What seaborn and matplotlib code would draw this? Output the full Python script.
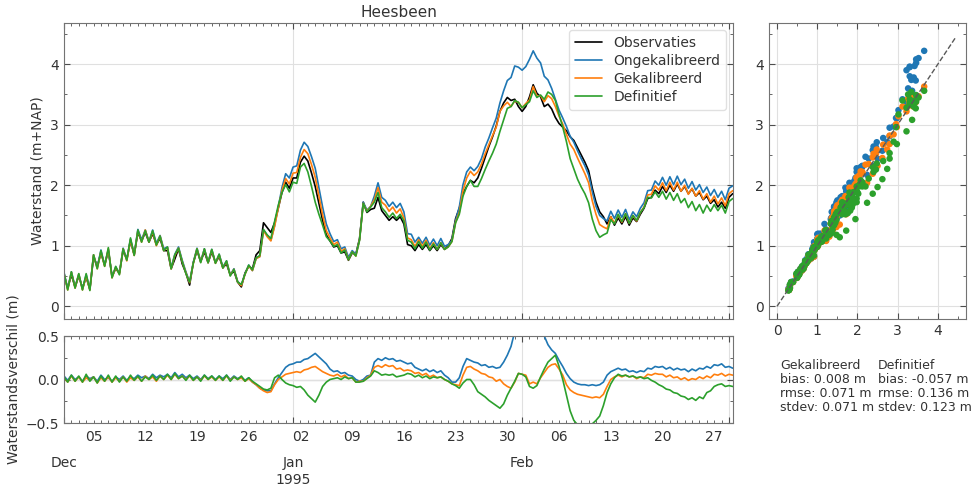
import numpy as np
import pandas as pd
import matplotlib
matplotlib.use("Agg")
import matplotlib.pyplot as plt
import matplotlib.dates as mdates
from matplotlib.ticker import AutoMinorLocator, FuncFormatter
import seaborn as sns

# half-daily values, 1 Dec 1994 00:00 .. 1 Mar 1995 12:00 (one week per row)
observaties = [
    0.52, 0.30, 0.52, 0.32, 0.50, 0.30, 0.48, 0.28, 0.82, 0.66, 0.88, 0.68, 0.92, 0.50,
    0.62, 0.55, 0.92, 0.78, 1.08, 0.85, 1.22, 1.08, 1.22, 1.06, 1.20, 1.02, 1.12, 0.92,
    0.92, 0.62, 0.78, 0.95, 0.70, 0.55, 0.35, 0.72, 0.92, 0.74, 0.90, 0.72, 0.90, 0.72,
    0.82, 0.64, 0.70, 0.52, 0.58, 0.40, 0.32, 0.55, 0.66, 0.62, 0.85, 0.92, 1.38, 1.30,
    1.22, 1.38, 1.62, 1.88, 2.05, 1.95, 2.12, 2.12, 2.38, 2.48, 2.40, 2.20, 1.98, 1.70,
    1.42, 1.18, 1.08, 0.98, 1.00, 0.88, 0.90, 0.76, 0.88, 0.86, 1.12, 1.72, 1.55, 1.60,
    1.62, 1.80, 1.58, 1.50, 1.42, 1.48, 1.42, 1.48, 1.36, 1.02, 1.00, 0.92, 1.02, 0.94,
    1.02, 0.92, 1.00, 0.92, 1.02, 0.94, 1.00, 1.12, 1.45, 1.62, 1.86, 1.98, 2.08, 2.04,
    2.12, 2.28, 2.46, 2.64, 2.80, 2.98, 3.22, 3.36, 3.45, 3.40, 3.42, 3.30, 3.22, 3.30,
    3.46, 3.66, 3.52, 3.46, 3.30, 3.34, 3.26, 3.12, 3.02, 2.96, 2.90, 2.80, 2.74, 2.62,
    2.50, 2.38, 2.24, 1.95, 1.72, 1.56, 1.48, 1.36, 1.48, 1.34, 1.46, 1.36, 1.48, 1.34,
    1.46, 1.40, 1.52, 1.62, 1.78, 1.80, 1.92, 1.86, 1.98, 1.88, 2.00, 1.90, 2.02, 1.90,
    1.98, 1.86, 1.94, 1.82, 1.88, 1.76, 1.82, 1.70, 1.76, 1.64, 1.72, 1.62, 1.80, 1.86,
]

# model minus observation
verschil_ongekalibreerd = [
    0.04, -0.01, 0.05, 0.00, 0.03, -0.02, 0.04, 0.01, 0.03, -0.02, 0.05, 0.00, 0.02, -0.02,
    0.03, 0.00, 0.04, -0.01, 0.03, 0.01, 0.05, 0.02, 0.04, 0.01, 0.06, 0.02, 0.05, 0.03,
    0.06, 0.02, 0.08, 0.03, 0.06, 0.02, 0.05, 0.01, 0.04, 0.00, 0.05, 0.01, 0.04, 0.00,
    0.04, 0.01, 0.05, 0.00, 0.04, 0.01, 0.03, -0.01, 0.02, -0.03, -0.06, -0.10, -0.12, -0.13,
    -0.13, -0.05, 0.02, 0.08, 0.14, 0.17, 0.18, 0.20, 0.20, 0.23, 0.24, 0.27, 0.30, 0.26,
    0.22, 0.18, 0.12, 0.09, 0.10, 0.07, 0.08, 0.05, 0.04, 0.00, -0.02, 0.00, 0.04, 0.05,
    0.20, 0.24, 0.22, 0.25, 0.23, 0.24, 0.21, 0.22, 0.20, 0.18, 0.19, 0.14, 0.12, 0.10,
    0.12, 0.09, 0.11, 0.08, 0.10, 0.05, 0.02, -0.03, -0.03, 0.02, 0.15, 0.24, 0.22, 0.20,
    0.19, 0.16, 0.17, 0.14, 0.15, 0.13, 0.14, 0.20, 0.28, 0.38, 0.55, 0.65, 0.68, 0.66,
    0.62, 0.56, 0.58, 0.56, 0.50, 0.40, 0.34, 0.30, 0.22, 0.15, 0.07, 0.01, -0.03, -0.05,
    -0.06, -0.06, -0.07, -0.06, -0.07, -0.06, -0.03, 0.05, 0.09, 0.11, 0.13, 0.11, 0.12, 0.09,
    0.10, 0.08, 0.10, 0.09, 0.13, 0.12, 0.15, 0.14, 0.15, 0.12, 0.14, 0.11, 0.13, 0.11,
    0.12, 0.09, 0.12, 0.10, 0.13, 0.12, 0.15, 0.13, 0.17, 0.16, 0.18, 0.14, 0.15, 0.13,
]

verschil_gekalibreerd = [
    0.02, -0.03, 0.04, -0.02, 0.03, -0.03, 0.02, -0.01, 0.03, -0.04, 0.02, -0.02, 0.03, -0.03,
    0.02, -0.02, 0.03, -0.03, 0.02, -0.01, 0.03, -0.02, 0.04, 0.00, 0.03, -0.02, 0.04, 0.00,
    0.05, 0.00, 0.06, 0.01, 0.04, 0.00, 0.04, -0.01, 0.03, -0.01, 0.04, 0.00, 0.03, -0.01,
    0.03, -0.01, 0.04, -0.01, 0.03, 0.00, 0.02, -0.02, 0.01, -0.03, -0.06, -0.10, -0.13, -0.15,
    -0.14, -0.06, 0.00, 0.03, 0.06, 0.07, 0.08, 0.09, 0.08, 0.11, 0.12, 0.14, 0.15, 0.12,
    0.09, 0.07, 0.05, 0.04, 0.06, 0.03, 0.05, 0.01, 0.02, -0.03, -0.02, -0.02, 0.02, 0.05,
    0.14, 0.16, 0.14, 0.17, 0.15, 0.16, 0.12, 0.13, 0.10, 0.11, 0.10, 0.07, 0.08, 0.05,
    0.07, 0.03, 0.05, 0.02, 0.03, 0.00, -0.02, -0.05, -0.06, -0.07, 0.05, 0.14, 0.15, 0.12,
    0.10, 0.07, 0.06, 0.03, 0.02, -0.02, 0.00, -0.05, -0.08, -0.10, -0.03, 0.07, 0.06, 0.05,
    -0.05, -0.03, -0.05, 0.02, 0.08, 0.14, 0.17, 0.18, 0.12, 0.05, -0.06, -0.12, -0.15, -0.17,
    -0.18, -0.19, -0.20, -0.21, -0.20, -0.21, -0.17, -0.08, 0.00, 0.03, 0.05, 0.03, 0.05, 0.03,
    0.04, 0.01, 0.03, 0.02, 0.06, 0.05, 0.07, 0.06, 0.06, 0.03, 0.05, 0.02, 0.03, 0.00,
    0.02, -0.01, 0.01, 0.00, 0.03, 0.01, 0.04, 0.02, 0.06, 0.05, 0.07, 0.04, 0.06, 0.05,
]

verschil_definitief = [
    0.03, -0.03, 0.05, -0.02, 0.04, -0.03, 0.06, -0.02, 0.03, -0.04, 0.04, -0.02, 0.05, -0.03,
    0.04, -0.03, 0.03, -0.02, 0.05, -0.01, 0.04, -0.02, 0.03, 0.00, 0.05, -0.01, 0.04, 0.00,
    0.06, 0.00, 0.07, 0.01, 0.04, -0.01, 0.05, -0.01, 0.03, -0.02, 0.05, 0.00, 0.04, -0.01,
    0.04, -0.01, 0.05, -0.02, 0.03, 0.00, 0.04, -0.02, 0.02, -0.02, -0.05, -0.08, -0.11, -0.12,
    -0.10, 0.02, 0.05, 0.00, -0.04, -0.06, -0.07, -0.09, -0.08, -0.12, -0.18, -0.22, -0.26, -0.18,
    -0.08, -0.03, 0.00, 0.01, 0.02, 0.00, 0.03, 0.01, 0.02, -0.03, -0.03, -0.02, 0.01, 0.04,
    0.10, 0.08, 0.05, 0.06, 0.05, 0.06, 0.03, 0.04, 0.05, 0.07, 0.06, 0.03, 0.05, 0.02,
    0.04, 0.01, 0.03, 0.02, 0.03, 0.00, -0.02, -0.05, -0.07, -0.10, -0.04, 0.00, 0.00, -0.06,
    -0.14, -0.17, -0.20, -0.24, -0.27, -0.30, -0.33, -0.28, -0.18, -0.10, -0.02, 0.07, 0.06, 0.03,
    -0.08, -0.10, -0.07, 0.03, 0.12, 0.20, 0.24, 0.28, 0.15, 0.00, -0.18, -0.36, -0.47, -0.52,
    -0.53, -0.52, -0.53, -0.51, -0.47, -0.42, -0.30, -0.15, -0.05, 0.02, 0.06, 0.04, 0.05, 0.03,
    0.04, 0.02, 0.03, 0.01, 0.02, -0.01, -0.03, -0.06, -0.08, -0.11, -0.12, -0.15, -0.16, -0.19,
    -0.20, -0.23, -0.21, -0.24, -0.20, -0.22, -0.15, -0.13, -0.08, -0.06, -0.05, -0.08, -0.07, -0.08,
]

series_names = ["Observaties", "Ongekalibreerd", "Gekalibreerd", "Definitief"]
colors = {"Observaties": "black", "Ongekalibreerd": "C0",
          "Gekalibreerd": "C1", "Definitief": "C2"}
stats_gek = "Gekalibreerd\nbias: 0.008 m\nrmse: 0.071 m\nstdev: 0.071 m"
stats_def = "Definitief\nbias: -0.057 m\nrmse: 0.136 m\nstdev: 0.123 m"

tijd = pd.date_range("1994-12-01", periods=len(observaties), freq="12h")
obs = np.array(observaties)
verschil = {"Ongekalibreerd": np.array(verschil_ongekalibreerd),
            "Gekalibreerd": np.array(verschil_gekalibreerd),
            "Definitief": np.array(verschil_definitief)}

rows = [pd.DataFrame({"tijd": tijd, "waterstand": obs, "serie": "Observaties"})]
diff_rows = []
for name, d in verschil.items():
    rows.append(pd.DataFrame({"tijd": tijd, "waterstand": obs + d, "serie": name,
                              "obs": obs}))
    diff_rows.append(pd.DataFrame({"tijd": tijd, "verschil": d, "serie": name}))
df = pd.concat(rows, ignore_index=True)
df_diff = pd.concat(diff_rows, ignore_index=True)

sns.set_style("whitegrid", {"axes.edgecolor": "0.45", "grid.color": "0.88",
                            "xtick.direction": "in", "ytick.direction": "in",
                            "xtick.top": True, "ytick.right": True,
                            "xtick.bottom": True, "ytick.left": True})
plt.rcParams["font.family"] = ["DejaVu Sans"]
plt.rcParams["font.size"] = 10
plt.rcParams["text.color"] = "0.2"
plt.rcParams["axes.labelcolor"] = "0.2"
plt.rcParams["xtick.color"] = "0.3"
plt.rcParams["ytick.color"] = "0.3"
plt.rcParams["xtick.labelcolor"] = "0.2"
plt.rcParams["ytick.labelcolor"] = "0.2"

W, H = 975, 486
fig = plt.figure(figsize=(W / 100, H / 100), dpi=100)


def box(l, t, r, b):
    return [l / W, 1 - b / H, (r - l) / W, (b - t) / H]


ax = fig.add_axes(box(64, 23, 733, 319))
axd = fig.add_axes(box(64, 336, 733, 423), sharex=ax)
axs = fig.add_axes(box(769, 23, 966, 319))

sns.lineplot(data=df, x="tijd", y="waterstand", hue="serie", hue_order=series_names,
             palette=colors, linewidth=1.2, ax=ax)
ax.set_title("Heesbeen", fontsize=11, pad=4)
ax.set_ylabel("Waterstand (m+NAP)")
ax.set_xlabel("")
ax.set_ylim(-0.21, 4.68)
ax.set_yticks([0, 1, 2, 3, 4])
leg = ax.legend(loc="upper right", frameon=True, fontsize=10, handlelength=2,
                borderpad=0.4, labelspacing=0.3)
leg.get_frame().set_edgecolor("0.85")

sns.lineplot(data=df_diff, x="tijd", y="verschil", hue="serie",
             hue_order=series_names[1:], palette=colors, linewidth=1.2,
             legend=False, ax=axd)
axd.axhline(0, color="0.85", linewidth=1, zorder=0)
axd.set_ylim(-0.5, 0.5)
axd.set_yticks([-0.5, 0, 0.5])
axd.set_ylabel("Waterstandsverschil (m)")
axd.set_xlabel("")

start, end = tijd[0], tijd[-1] + pd.Timedelta(hours=1)
for a in (ax, axd):
    a.set_xlim(start, end)
    a.xaxis.set_major_locator(mdates.MonthLocator())
    a.xaxis.set_minor_locator(mdates.DayLocator())
    a.grid(True, which="major", axis="both")
    a.grid(False, which="minor")
    a.yaxis.set_minor_locator(AutoMinorLocator(2))
    a.tick_params(which="major", length=4)
    a.tick_params(which="minor", length=2)

month_labels = {12: "Dec", 1: "Jan\n1995", 2: "Feb"}
axd.xaxis.set_major_formatter(FuncFormatter(
    lambda v, p: month_labels.get(mdates.num2date(v).month, "")))
axd.xaxis.set_minor_formatter(FuncFormatter(
    lambda v, p: mdates.num2date(v).strftime("%d") if mdates.num2date(v).weekday() == 0 else ""))
axd.tick_params(axis="x", which="major", pad=24)
axd.tick_params(axis="x", which="minor", pad=5)
plt.setp(ax.get_xticklabels(which="both"), visible=False)

# scatter observed vs model
sc = df[df["serie"] != "Observaties"]
sns.scatterplot(data=sc, x="obs", y="waterstand", hue="serie",
                hue_order=series_names[1:], palette=colors, s=22,
                linewidth=0, legend=False, ax=axs)
axs.plot([0, 4.45], [0, 4.45], "--", color="0.35", linewidth=1)
axs.set_xlim(-0.2, 4.7)
axs.set_ylim(-0.21, 4.68)
axs.set_xticks([0, 1, 2, 3, 4])
axs.set_yticks([0, 1, 2, 3, 4])
axs.set_xlabel("")
axs.set_ylabel("")
axs.xaxis.set_minor_locator(AutoMinorLocator(2))
axs.yaxis.set_minor_locator(AutoMinorLocator(2))
axs.tick_params(which="major", length=4)
axs.tick_params(which="minor", length=2)

fig.text(780 / W, 1 - 359 / H, stats_gek, va="top", ha="left", fontsize=9,
         linespacing=1.1)
fig.text(878 / W, 1 - 359 / H, stats_def, va="top", ha="left", fontsize=9,
         linespacing=1.1)

fig.savefig("out.png", dpi=100)
